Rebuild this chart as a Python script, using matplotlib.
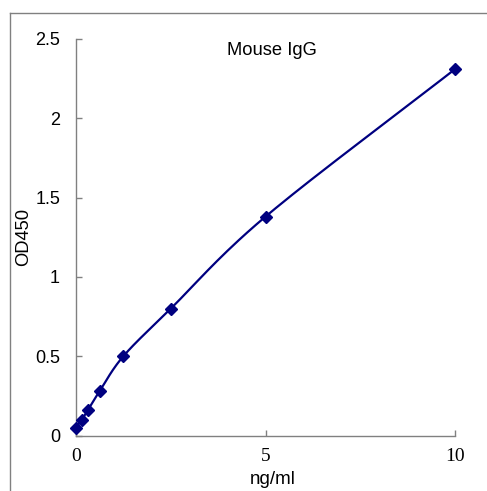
import numpy as np
import matplotlib
matplotlib.use("Agg")
import matplotlib.pyplot as plt
from matplotlib.lines import Line2D

conc = [0, 0.156, 0.3125, 0.625, 1.25, 2.5, 5, 10]
od = [0.05, 0.10, 0.16, 0.28, 0.50, 0.80, 1.38, 2.31]
x_ticks = [0, 5, 10]
y_ticks = [0, 0.5, 1, 1.5, 2, 2.5]
y_tick_labels = ["0", "0.5", "1", "1.5", "2", "2.5"]
title = "Mouse IgG"
xlabel = "ng/ml"
ylabel = "OD450"


def catmull_rom(xs, ys, n=30):
    xs = np.asarray(xs, float)
    ys = np.asarray(ys, float)
    px = np.concatenate([[2 * xs[0] - xs[1]], xs, [2 * xs[-1] - xs[-2]]])
    py = np.concatenate([[2 * ys[0] - ys[1]], ys, [2 * ys[-1] - ys[-2]]])
    ox, oy = [], []
    t = np.linspace(0, 1, n)
    for i in range(1, len(px) - 2):
        p0, p1, p2, p3 = [np.array([px[j], py[j]]) for j in range(i - 1, i + 3)]
        m1 = (p2 - p0) / 2
        m2 = (p3 - p1) / 2
        h00 = 2 * t**3 - 3 * t**2 + 1
        h10 = t**3 - 2 * t**2 + t
        h01 = -2 * t**3 + 3 * t**2
        h11 = t**3 - t**2
        seg = (np.outer(h00, p1) + np.outer(h10, m1) + np.outer(h01, p2) + np.outer(h11, m2))
        ox.extend(seg[:, 0])
        oy.extend(seg[:, 1])
    return np.array(ox), np.array(oy)


W, H = 487, 491
X0, X1, Y0, Y1 = 76, 455, 435.5, 39
fig = plt.figure(figsize=(W / 100, H / 100), dpi=100)
ax = fig.add_axes([X0 / W, 1 - Y0 / H, (X1 - X0) / W, (Y0 - Y1) / H])

sx, sy = catmull_rom(conc, od)
navy = "#000080"
ax.plot(sx, sy, color=navy, lw=1.6, zorder=3, clip_on=False)
ax.plot(conc, od, linestyle="none", marker="D", markersize=6.5, color=navy, zorder=4, clip_on=False)

ax.set_xlim(0, 10)
ax.set_ylim(0, 2.5)
for s in ["top", "right"]:
    ax.spines[s].set_visible(False)
for s in ["left", "bottom"]:
    ax.spines[s].set_color("#808080")
    ax.spines[s].set_linewidth(1.0)

ax.set_xticks(x_ticks)
ax.set_xticklabels([str(v) for v in x_ticks], fontfamily="Liberation Serif", fontsize=14)
ax.set_yticks(y_ticks)
ax.set_yticklabels(y_tick_labels, fontfamily="Liberation Sans", fontsize=13)
ax.tick_params(axis="both", direction="in", length=4, color="#808080", width=1.0)
ax.tick_params(axis="y", pad=11.5)
ax.tick_params(axis="x", pad=9)

ax.text((271.5 - X0) / (X1 - X0), (Y0 - 55) / (Y0 - Y1), title, transform=ax.transAxes,
        ha="center", va="baseline", fontfamily="Liberation Sans", fontsize=13.2)

ax.set_xlabel(xlabel, fontfamily="Liberation Sans", fontsize=13.5)
ax.xaxis.label.set_va("baseline")
ax.xaxis.set_label_coords((273 - X0) / (X1 - X0), (Y0 - 484) / (Y0 - Y1))

ax.set_ylabel(ylabel, fontfamily="Liberation Sans", fontsize=13.2)
ax.yaxis.label.set_va("center")
ax.yaxis.set_label_coords((23.5 - X0) / (X1 - X0), (Y0 - 237.5) / (Y0 - Y1))

# outer chart-area frame (top and left edges)
fig.add_artist(Line2D([10 / W, 1.0], [1 - 13 / H, 1 - 13 / H], transform=fig.transFigure,
                      color="#808080", lw=1.0))
fig.add_artist(Line2D([10 / W, 10 / W], [1 - 13 / H, 0], transform=fig.transFigure,
                      color="#808080", lw=1.0))

fig.savefig("out.png", dpi=100)
